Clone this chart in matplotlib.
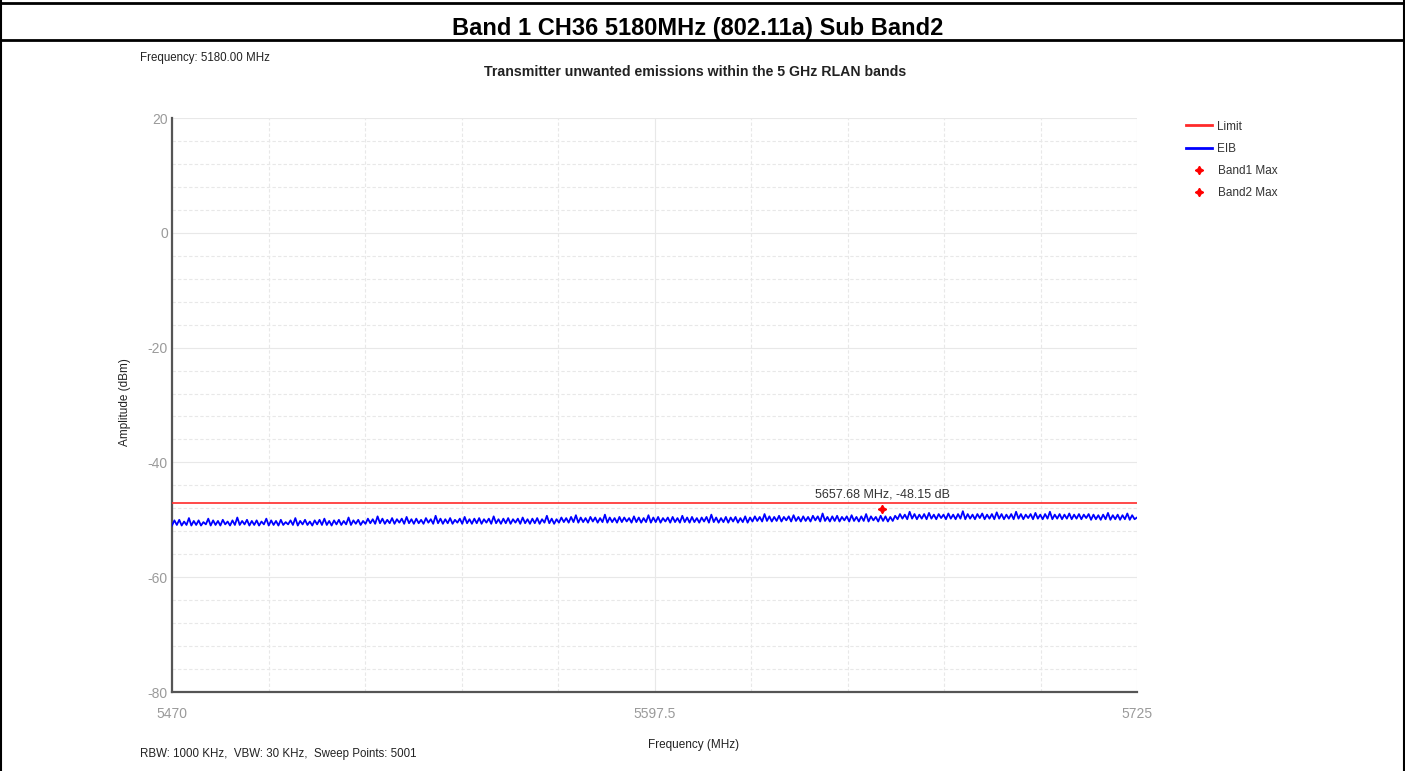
import numpy as np
import matplotlib
matplotlib.use("Agg")
import matplotlib.pyplot as plt
from matplotlib.lines import Line2D

plt.rcParams['font.family'] = ['Liberation Sans', 'DejaVu Sans']
plt.rcParams['axes.unicode_minus'] = False

# ---- data ----
f_start, f_stop = 5470.0, 5725.0
limit_db = -47.0
eib_db = [
    -51.0, -50.1, -50.9, -50.0, -51.0, -50.3, -50.9, -49.7, -51.0, -50.2,
    -50.9, -50.1, -51.0, -50.4, -50.8, -49.8, -51.0, -50.1, -50.9, -50.2,
    -51.0, -50.0, -50.8, -50.3, -51.0, -50.1, -50.9, -49.6, -50.9, -50.2,
    -50.8, -50.0, -51.0, -50.2, -50.9, -50.1, -51.0, -50.3, -50.8, -49.8,
    -51.0, -50.1, -50.9, -50.2, -51.0, -50.0, -50.9, -50.4, -50.8, -50.1,
    -50.9, -49.7, -51.0, -50.2, -50.8, -50.0, -50.9, -50.3, -51.0, -50.1,
    -50.8, -50.0, -50.9, -49.8, -50.9, -50.2, -51.0, -50.1, -50.8, -50.0,
    -50.9, -50.2, -50.8, -49.6, -50.9, -50.1, -50.7, -50.0, -50.9, -50.2,
    -50.7, -49.8, -50.6, -49.9, -50.7, -49.4, -50.6, -49.8, -50.7, -50.0,
    -50.6, -49.7, -50.7, -49.9, -50.5, -49.8, -50.7, -49.5, -50.6, -49.9,
    -50.7, -49.8, -50.6, -50.0, -50.7, -49.7, -50.5, -49.9, -50.7, -49.3,
    -50.6, -49.8, -50.7, -49.9, -50.6, -49.7, -50.7, -50.0, -50.5, -49.8,
    -50.7, -49.5, -50.6, -49.9, -50.7, -49.8, -50.6, -49.7, -50.7, -49.9,
    -50.5, -49.8, -50.7, -49.4, -50.6, -49.9, -50.7, -49.8, -50.6, -49.7,
    -50.7, -49.9, -50.5, -49.8, -50.7, -49.6, -50.6, -49.9, -50.7, -49.8,
    -50.6, -49.7, -50.7, -49.9, -50.5, -49.3, -50.6, -49.8, -50.7, -49.9,
    -50.5, -49.6, -50.4, -49.7, -50.5, -49.5, -50.4, -49.2, -50.5, -49.6,
    -50.4, -49.7, -50.5, -49.5, -50.3, -49.6, -50.5, -49.7, -50.4, -49.1,
    -50.5, -49.6, -50.4, -49.7, -50.5, -49.5, -50.4, -49.6, -50.3, -49.7,
    -50.5, -49.4, -50.4, -49.6, -50.5, -49.7, -50.4, -49.2, -50.5, -49.6,
    -50.4, -49.5, -50.5, -49.7, -50.3, -49.6, -50.5, -49.5, -50.4, -49.7,
    -50.5, -49.3, -50.4, -49.6, -50.5, -49.5, -50.4, -49.7, -50.5, -49.6,
    -50.3, -49.5, -50.5, -49.1, -50.4, -49.6, -50.5, -49.7, -50.4, -49.5,
    -50.5, -49.6, -50.3, -49.5, -50.5, -49.7, -50.4, -49.4, -50.5, -49.6,
    -50.3, -49.4, -50.2, -49.5, -50.3, -49.0, -50.2, -49.4, -50.3, -49.5,
    -50.2, -49.3, -50.3, -49.5, -50.1, -49.4, -50.3, -49.2, -50.2, -49.5,
    -50.3, -49.4, -50.2, -49.5, -50.3, -49.3, -50.1, -49.4, -50.3, -48.9,
    -50.2, -49.5, -50.3, -49.4, -50.2, -49.3, -50.3, -49.5, -50.1, -49.4,
    -50.3, -49.2, -50.2, -49.5, -50.3, -49.4, -50.2, -49.0, -50.3, -49.4,
    -50.1, -49.5, -50.3, -49.3, -50.2, -49.4, -50.3, -49.5, -50.2, -49.3,
    -49.9, -49.0, -49.8, -49.1, -49.9, -48.6, -49.8, -49.0, -49.9, -49.1,
    -49.8, -49.0, -49.9, -48.8, -49.8, -49.1, -49.9, -49.0, -49.7, -49.1,
    -49.9, -48.9, -49.8, -49.1, -49.9, -49.0, -49.8, -48.5, -49.9, -49.0,
    -49.8, -49.1, -49.9, -49.0, -49.7, -48.9, -49.9, -49.1, -49.8, -49.0,
    -49.9, -48.7, -49.8, -49.0, -49.9, -49.1, -49.8, -49.0, -49.9, -48.6,
    -49.8, -49.0, -49.9, -49.1, -49.7, -49.0, -49.9, -48.8, -49.8, -49.1,
    -49.9, -49.0, -49.8, -48.6, -49.9, -49.1, -49.8, -49.0, -49.9, -49.1,
    -49.8, -48.9, -49.9, -49.1, -49.8, -49.0, -49.9, -49.1, -49.7, -49.0,
    -50.0, -49.1, -49.9, -49.2, -50.0, -49.1, -49.9, -48.8, -50.0, -49.2,
    -49.9, -49.1, -50.0, -49.2, -49.9, -48.9, -50.0, -49.2, -49.9, -49.6,
]
band2_max_freq = [5657.68]
band2_max_db = [-48.15]
band1_max_freq = []
band1_max_db = []
x_tick_vals = [5470, 5597.5, 5725]
x_tick_labels = ["5470", "5597.5", "5725"]
y_tick_vals = [20, 0, -20, -40, -60, -80]

freqs = np.linspace(f_start, f_stop, len(eib_db))

fig = plt.figure(figsize=(14.05, 7.71), dpi=100)
W, H = 1405, 771

def fx(px):
    return px / W

def fy(py):
    return 1 - py / H

ax = fig.add_axes([fx(172), fy(692), fx(1137) - fx(172), fy(118) - fy(692)])

ax.set_xlim(f_start, f_stop)
ax.set_ylim(-80, 20)

# grid
ax.set_xticks(np.linspace(f_start, f_stop, 11), minor=True)
ax.set_yticks(np.arange(-80, 21, 4), minor=True)
ax.grid(which='minor', color='#e8e8e8', linestyle=(0, (3, 2)), linewidth=0.8)
ax.grid(which='major', color='#e8e8e8', linestyle='-', linewidth=0.8)
ax.set_axisbelow(True)

ax.set_xticks(x_tick_vals)
ax.set_xticklabels(x_tick_labels)
ax.set_yticks(y_tick_vals)
ax.tick_params(axis='both', which='both', length=0, colors='#9a9a9a', labelsize=10)
ax.tick_params(axis='x', pad=11)
ax.tick_params(axis='y', pad=3)

for s in ['top', 'right']:
    ax.spines[s].set_visible(False)
for s in ['left', 'bottom']:
    ax.spines[s].set_color('#555555')
    ax.spines[s].set_linewidth(1.6)

ax.axhline(limit_db, color='#ff2a2a', linewidth=1.2, zorder=3)
ax.plot(freqs, eib_db, color='#0000ff', linewidth=1.3, zorder=4)
star = (4, 1, 0)
ax.plot(band1_max_freq, band1_max_db, linestyle='none', marker=star, color='red', markersize=6, zorder=5)
ax.plot(band2_max_freq, band2_max_db, linestyle='none', marker=star, color='red', markersize=6, zorder=5)
ax.annotate(f"{band2_max_freq[0]:.2f} MHz, {band2_max_db[0]:.2f} dB",
            xy=(band2_max_freq[0], band2_max_db[0]), xytext=(0, 6),
            textcoords='offset points', ha='center', va='bottom',
            fontsize=9, color='#333333')

fig.text(fx(694), fy(745), "Frequency (MHz)", ha='center', va='center',
         fontsize=8.5, color='#222222')
fig.text(fx(125), fy(402), "Amplitude (dBm)", ha='center', va='center',
         rotation=90, fontsize=8.5, color='#222222')

handles = [
    Line2D([], [], color='#ff2a2a', linewidth=2),
    Line2D([], [], color='#0000ff', linewidth=2),
    Line2D([], [], color='red', linestyle='none', marker=star, markersize=6),
    Line2D([], [], color='red', linestyle='none', marker=star, markersize=6),
]
fig.legend(handles, ["Limit", "EIB", "Band1 Max", "Band2 Max"],
           loc='upper left', bbox_to_anchor=(fx(1175), fy(110)),
           frameon=False, fontsize=8.5, handlelength=2.2, handletextpad=0.5,
           labelspacing=0.85, labelcolor='#333333')

# texts
fig.text(0.5 * (fx(453) + fx(943)), fy(28), "Band 1 CH36 5180MHz (802.11a) Sub Band2",
         ha='center', va='center', fontsize=17, fontweight='bold', color='black')
fig.text(fx(140), fy(58), "Frequency: 5180.00 MHz", ha='left', va='center',
         fontsize=8.3, color='#222222')
fig.text(fx(695), fy(72), "Transmitter unwanted emissions within the 5 GHz RLAN bands",
         ha='center', va='center', fontsize=10.2, fontweight='bold', color='#222222')
fig.text(fx(140), fy(754), "RBW: 1000 KHz,  VBW: 30 KHz,  Sweep Points: 5001",
         ha='left', va='center', fontsize=8.3, color='#222222')

# frame lines
fig.add_artist(Line2D([0, 1], [fy(3), fy(3)], transform=fig.transFigure, color='black', linewidth=2))
fig.add_artist(Line2D([0, 1], [fy(40), fy(40)], transform=fig.transFigure, color='black', linewidth=2))
fig.add_artist(Line2D([fx(1), fx(1)], [0, 1], transform=fig.transFigure, color='black', linewidth=1.5))
fig.add_artist(Line2D([fx(1403.5), fx(1403.5)], [0, 1], transform=fig.transFigure, color='black', linewidth=1.5))

fig.savefig("out.png", dpi=100)
